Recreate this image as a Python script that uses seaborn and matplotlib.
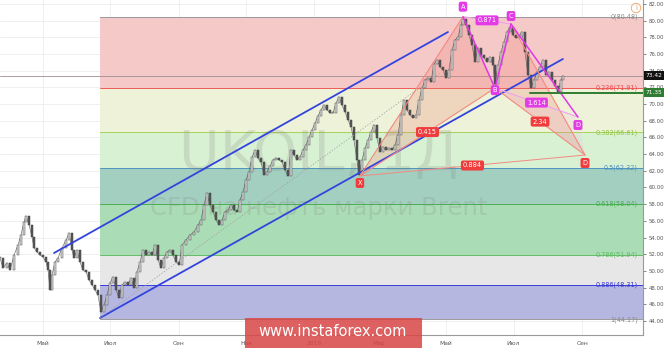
import numpy as np
import pandas as pd
import matplotlib
matplotlib.use("Agg")
import matplotlib.pyplot as plt
import matplotlib.transforms as mtransforms
import matplotlib.dates as mdates
from matplotlib.patches import Polygon, Rectangle
import seaborn as sns

# ---------------- data ----------------
start_date = "2017-03-23"
day = [0.0, 2.7, 6.3, 9.1, 12.7, 16.3, 19.0, 21.7, 23.5, 26.3,
       29.0, 30.8, 33.5, 36.2, 38.9, 41.6, 43.5, 45.3, 47.1, 49.8,
       52.5, 56.1, 59.8, 62.5, 65.2, 67.0, 69.7, 72.4, 75.1, 77.9,
       80.6, 83.3, 86.0, 88.7, 91.4, 94.2, 96.9, 99.6, 102.3, 105.0,
       107.7, 110.5, 113.2, 115.9, 118.6, 121.3, 124.0, 126.8, 129.5, 132.2,
       134.9, 137.6, 140.3, 143.1, 145.8, 148.5, 151.2, 153.9, 156.6, 159.4,
       162.1, 164.8, 168.4, 172.0, 175.6, 179.3, 182.0, 184.7, 187.4, 190.1,
       192.9, 195.6, 198.3, 201.0, 203.7, 206.4, 209.1, 211.9, 214.6, 217.3,
       220.0, 222.7, 225.4, 228.2, 230.9, 233.6, 236.3, 239.0, 241.7, 244.5,
       247.2, 249.9, 252.6, 255.3, 258.0, 260.8, 263.5, 266.2, 268.9, 271.6,
       274.3, 277.1, 279.8, 282.5, 285.2, 287.9, 290.6, 293.3, 296.1, 298.8,
       301.5, 304.2, 306.9, 309.6, 312.4, 315.1, 317.8, 320.5, 323.2, 325.0,
       327.8, 330.5, 333.2, 335.9, 338.6, 341.3, 344.1, 346.8, 349.5, 352.2,
       354.9, 357.6, 360.3, 363.1, 365.8, 368.5, 371.2, 373.9, 376.6, 379.4,
       382.1, 384.8, 387.5, 390.2, 392.9, 395.7, 398.4, 401.1, 403.8, 406.5,
       409.2, 412.0, 414.7, 417.4, 419.2, 421.9, 424.6, 427.3, 430.1, 432.8,
       435.5, 438.2, 440.9, 443.6, 446.4, 448.2, 450.9, 453.6, 456.3, 459.0,
       461.8, 464.5, 467.2, 469.9, 472.6, 475.3, 478.1, 480.8, 483.5, 486.2,
       488.9, 491.6, 494.3, 497.1, 499.8, 502.5, 505.2, 507.9, 509.7]
close = [51.54, 50.35, 50.95, 50.11, 51.90, 53.10, 54.30, 55.86, 56.58, 55.50,
         54.06, 52.74, 52.26, 51.90, 51.66, 51.07, 50.11, 47.71, 49.51, 51.07,
         51.54, 52.74, 53.70, 54.54, 52.50, 51.54, 52.50, 51.07, 50.11, 49.87,
         48.91, 48.31, 47.71, 47.11, 45.07, 45.91, 47.11, 48.55, 49.27, 47.71,
         46.75, 48.31, 48.67, 48.31, 49.15, 47.95, 49.87, 51.07, 52.50, 51.90,
         52.26, 51.90, 53.10, 51.30, 50.35, 51.54, 52.26, 52.50, 51.90, 51.07,
         50.71, 53.10, 53.70, 54.30, 54.66, 55.50, 56.10, 57.90, 59.34, 57.90,
         57.06, 56.10, 55.50, 56.10, 57.06, 57.30, 57.90, 57.30, 57.06, 58.50,
         59.46, 60.90, 61.86, 63.66, 64.49, 63.54, 63.06, 61.50, 61.86, 62.58,
         63.30, 63.54, 63.30, 63.06, 62.10, 61.38, 64.49, 63.89, 63.30, 63.66,
         64.49, 65.09, 66.05, 66.89, 67.73, 68.57, 69.29, 69.89, 69.29, 68.93,
         68.93, 70.13, 70.85, 69.89, 69.05, 68.09, 67.25, 65.69, 63.30, 61.50,
         63.30, 64.73, 65.69, 66.65, 67.49, 65.93, 64.25, 64.85, 64.49, 64.73,
         64.49, 65.09, 66.29, 68.69, 70.49, 69.29, 68.69, 68.33, 68.69, 70.49,
         71.93, 72.89, 73.13, 72.65, 74.81, 75.29, 74.45, 74.09, 73.13, 74.09,
         76.48, 77.68, 78.04, 79.48, 80.20, 79.48, 78.28, 77.08, 75.05, 76.72,
         75.89, 75.53, 75.05, 75.65, 74.69, 72.41, 74.69, 76.24, 77.44, 78.64,
         79.24, 78.28, 77.92, 78.16, 78.64, 76.24, 73.49, 71.93, 72.89, 73.85,
         74.45, 75.29, 73.49, 73.85, 72.89, 72.17, 71.45, 72.89, 73.42]

tick_dates = ["2017-05-01", "2017-07-01", "2017-09-01", "2017-11-01", "2018-01-01",
              "2018-03-01", "2018-05-01", "2018-07-01", "2018-09-01"]
tick_labels = ["Май", "Июл", "Сен", "Ноя", "2018", "Мар", "Май", "Июл", "Сен"]
y_ticks = list(range(44, 83, 2))

fib_ratio = ["0", "0.236", "0.382", "0.5", "0.618", "0.786", "0.886", "1"]
fib_price = [80.48, 71.91, 66.61, 62.32, 58.04, 51.94, 48.31, 44.17]
fib_start_day = 90.5
fib_line_colors = ["#9a9a9a", "#ef5a5a", "#a6d45a", "#4f95c0", "#4caf50", "#66bb6a", "#3d3ddc", "#9a9a9a"]
fib_text_colors = ["#8a8a8a", "#ef4a4a", "#8fc43f", "#4a8fbf", "#45b04a", "#5cbf60", "#3535d0", "#8a8a8a"]
fib_band_colors = ["#f6c9c9", "#eef2d8", "#d8f1d3", "#a2cfc0", "#aadcb5", "#e7e7e7", "#b5b7e1"]

# harmonic pattern points (day offset, price)
pt_day = [325.9, 419.2, 448.2, 462.7]      # X, A, B, C
pt_price = [61.38, 80.48, 71.91, 79.60]
dm_day, dm_price = 523.3, 68.45            # magenta D
dr_day, dr_price = 529.7, 63.89            # red D
ratio_ac, ratio_bdm, ratio_xb, ratio_bdr, ratio_xdr = "0.871", "1.614", "0.415", "2.34", "0.884"

# channel lines (day, price)
chan_up = [(48.9, 52.14), (405.6, 78.64)]
chan_lo = [(90.5, 44.35), (509.7, 75.41)]
chan_mid = [(90.5, 44.35), (398.4, 73.73)]

last_price = 73.42
support_price = 71.35
support_start_day = 479.9

# ---------------- figure ----------------
sns.set_theme(style="white")
plt.rcParams["font.family"] = ["DejaVu Sans"]

W, H = 665, 348
fig = plt.figure(figsize=(W / 100, H / 100), dpi=100)
ax = fig.add_axes([0, 13 / H, 643 / W, 335 / H])

t0 = pd.Timestamp(start_date)
def D(d):
    return t0 + pd.to_timedelta(d, unit="D")

dates = D(np.array(day))
x_left, x_right = D(0), D(582.2)
ax.set_xlim(x_left, x_right)
ax.set_ylim(42.31, 82.48)

# grid
for yt in y_ticks:
    ax.axhline(yt, color="#ececec", lw=0.6, zorder=0)
for td in tick_dates:
    ax.axvline(pd.Timestamp(td), color="#ececec", lw=0.6, zorder=0)

# fib bands and levels
fs = D(fib_start_day)
for i in range(len(fib_band_colors)):
    ax.fill_between([fs, x_right], fib_price[i + 1], fib_price[i],
                    color=fib_band_colors[i], lw=0, zorder=1)
for i, p in enumerate(fib_price):
    ax.plot([fs, x_right], [p, p], color=fib_line_colors[i], lw=0.7, zorder=1.5)
    ax.text(D(577.6), p, f"{fib_ratio[i]}({p:.2f})", color=fib_text_colors[i],
            fontsize=4.7, ha="right", va="center", zorder=6)

# watermark
ax.text(D(288.8), 62.1, "UKOIL, 1Д", fontsize=40, color="#808080", alpha=0.2,
        ha="center", va="baseline", zorder=2)
ax.text(D(288.8), 56.7, "CFD на нефть марки Brent", fontsize=17.5, color="#808080",
        alpha=0.2, ha="center", va="baseline", zorder=2)

# last price line / support
ax.axhline(last_price, color="#9a8f8f", lw=0.6, zorder=2)
ax.plot([D(support_start_day), x_right], [support_price, support_price],
        color="#2f7d32", lw=1.4, zorder=5)

# pattern points
X = (D(pt_day[0]), pt_price[0]); A = (D(pt_day[1]), pt_price[1])
B = (D(pt_day[2]), pt_price[2]); C = (D(pt_day[3]), pt_price[3])
DM = (D(dm_day), dm_price); DR = (D(dr_day), dr_price)
def P(pt):
    return (mdates.date2num(pt[0]), pt[1])
ax.add_patch(Polygon([P(X), P(A), P(B)], closed=True, fc="#f08070", alpha=0.25, ec="none", zorder=2.5))
ax.add_patch(Polygon([P(B), P(C), P(DR)], closed=True, fc="#f08070", alpha=0.25, ec="none", zorder=2.5))
ax.add_patch(Polygon([P(B), P(DM), P(DR)], closed=True, fc="#f0a0f0", alpha=0.12, ec="none", zorder=2.5))

# candles (open = previous close)
opens = [close[0]] + close[:-1]
o = np.array(opens); c = np.array(close)
up = c >= o
bottom = np.minimum(o, c)
height = np.maximum(np.abs(c - o), 0.08)
sns.lineplot(x=dates, y=close, ax=ax, color="#666666", lw=0.45, zorder=3)
ax.bar(dates[up], height[up], bottom=bottom[up], width=1.5, color="#d8d8d8",
       edgecolor="#505050", linewidth=0.35, zorder=3.1)
ax.bar(dates[~up], height[~up], bottom=bottom[~up], width=1.5, color="#555555",
       edgecolor="#454545", linewidth=0.35, zorder=3.1)

# channel lines
for sg, kw in [(chan_up, dict(color="#3344dd", lw=1.3)),
               (chan_lo, dict(color="#3344dd", lw=1.3)),
               (chan_mid, dict(color="#a0a0a0", lw=0.6, ls=(0, (1.5, 2))))]:
    ax.plot([D(sg[0][0]), D(sg[1][0])], [sg[0][1], sg[1][1]], zorder=4, **kw)

# pattern lines
salmon = "#f28a80"; mag = "#e236e6"; pink = "#f0a0f0"
def seg(p, q, **kw):
    ax.plot([p[0], q[0]], [p[1], q[1]], zorder=4.5, **kw)
seg(X, A, color=salmon, lw=0.8)
seg(X, B, color=salmon, lw=0.8)
seg(B, DR, color=salmon, lw=0.8)
seg(C, DR, color=salmon, lw=0.8)
seg(X, DR, color=salmon, lw=0.7)
seg(A, C, color=pink, lw=0.8)
seg(B, DM, color=pink, lw=0.8)
seg(A, B, color=mag, lw=1.1)
seg(B, C, color=mag, lw=1.1)
seg(C, DM, color=mag, lw=1.1)

def mid(p, q):
    return (mdates.num2date((mdates.date2num(p[0]) + mdates.date2num(q[0])) / 2), (p[1] + q[1]) / 2)

def tag(pt, text, fc, dy=0, fs=4.8):
    ax.annotate(text, xy=pt, xytext=(0, dy), textcoords="offset pixels",
                ha="center", va="center", fontsize=fs, color="white", zorder=7,
                bbox=dict(boxstyle="round,pad=0.3,rounding_size=0.3", fc=fc, ec="none"))

red = "#f03c3c"; magbox = "#e33ce6"
tag(X, "X", red, dy=-7)
tag(A, "A", magbox, dy=10)
tag(B, "B", magbox, dy=-2)
tag(C, "C", magbox, dy=8)
tag(DM, "D", magbox, dy=-8)
tag(DR, "D", red, dy=-8)
tag(mid(A, C), ratio_ac, magbox)
tag(mid(B, DM), ratio_bdm, magbox)
tag(mid(X, B), ratio_xb, red)
tag(mid(B, DR), ratio_bdr, red)
tag(mid(X, DR), ratio_xdr, red)

# axes styling
ax.set_xticks([pd.Timestamp(t) for t in tick_dates])
ax.set_xticklabels(tick_labels)
ax.set_yticks(y_ticks)
ax.set_yticklabels([f"{v:.2f}" for v in y_ticks])
ax.yaxis.tick_right()
ax.tick_params(axis="y", labelsize=3.9, colors="#555555", length=2.5, width=0.5, pad=1.5)
ax.tick_params(axis="x", labelsize=4.3, colors="#555555", length=2.5, width=0.5, pad=2)
for s in ["left", "top"]:
    ax.spines[s].set_visible(False)
for s in ["right", "bottom"]:
    ax.spines[s].set_color("#9a9a9a")
    ax.spines[s].set_linewidth(0.8)
ax.set_xlabel(""); ax.set_ylabel("")

# right-axis price boxes
trans = mtransforms.blended_transform_factory(ax.transAxes, ax.transData)
ax.text(1.004, last_price, f"{last_price:.2f}", transform=trans, fontsize=4.2, color="white",
        ha="left", va="center", zorder=8, clip_on=False,
        bbox=dict(boxstyle="square,pad=0.35", fc="#111111", ec="none"))
ax.text(1.004, support_price, f"{support_price:.2f}", transform=trans, fontsize=4.2, color="white",
        ha="left", va="center", zorder=8, clip_on=False,
        bbox=dict(boxstyle="square,pad=0.35", fc="#2f7d32", ec="none"))

# info icon
fig.text(636 / W, 1 - 8 / H, "i", fontsize=5, color="#f0a060", ha="center", va="center",
         bbox=dict(boxstyle="circle,pad=0.25", fc="none", ec="#f0a060", lw=0.6))

# instaforex banner
fig.patches.append(Rectangle((245 / W, 0), 177 / W, 30 / H, transform=fig.transFigure,
                             fc="#d94545", alpha=0.85, ec="none", zorder=10))
fig.text(333 / W, 16 / H, "www.instaforex.com", fontsize=10.5, color="white",
         ha="center", va="center", zorder=11)

fig.savefig("out.png", dpi=100)
